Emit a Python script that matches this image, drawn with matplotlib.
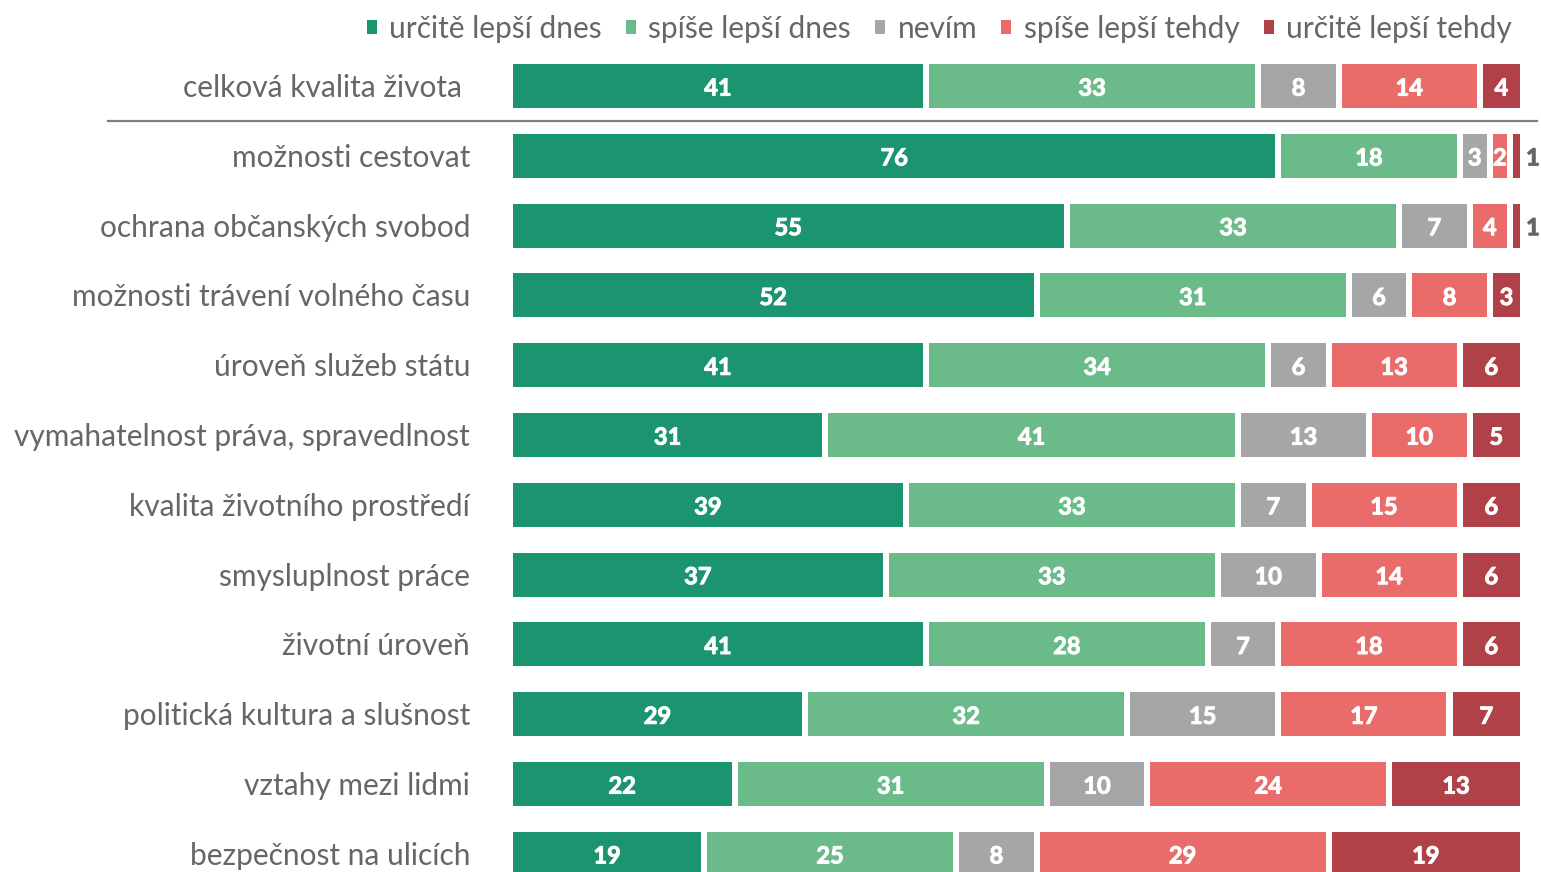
import matplotlib.pyplot as plt
import matplotlib.patheffects as pe
from matplotlib.lines import Line2D
from matplotlib.patches import Patch

plt.rcParams['font.family'] = ['Lato', 'DejaVu Sans']

categories = [
    "celková kvalita života",
    "možnosti cestovat",
    "ochrana občanských svobod",
    "možnosti trávení volného času",
    "úroveň služeb státu",
    "vymahatelnost práva, spravedlnost",
    "kvalita životního prostředí",
    "smysluplnost práce",
    "životní úroveň",
    "politická kultura a slušnost",
    "vztahy mezi lidmi",
    "bezpečnost na ulicích",
]
series_names = ["určitě lepší dnes", "spíše lepší dnes", "nevím",
                "spíše lepší tehdy", "určitě lepší tehdy"]
urcite_dnes = [41, 76, 55, 52, 41, 31, 39, 37, 41, 29, 22, 19]
spise_dnes = [33, 18, 33, 31, 34, 41, 33, 33, 28, 32, 31, 25]
nevim = [8, 3, 7, 6, 6, 13, 7, 10, 7, 15, 10, 8]
spise_tehdy = [14, 2, 4, 8, 13, 10, 15, 14, 18, 17, 24, 29]
urcite_tehdy = [4, 1, 1, 3, 6, 5, 6, 6, 6, 7, 13, 19]

colors = ["#1b9570", "#6aba8a", "#a6a6a6", "#e96b6a", "#b04149"]
text_gray = "#666666"

series = [urcite_dnes, spise_dnes, nevim, spise_tehdy, urcite_tehdy]

W, H = 1541, 872
fig = plt.figure(figsize=(W / 100, H / 100), dpi=100)
ax = fig.add_axes([513 / W, 0, 1007 / W, 1])

row0, step = 86, 69.8
ax.set_ylim((H - row0) / step, -row0 / step)
ax.set_xlim(0, 100)
ax.axis('off')

gap = 0.6
bar_h = 0.63
txt_dy = 0.03  # nudge text down a little
for i, cat in enumerate(categories):
    vals = [s[i] for s in series]
    total = sum(vals)
    left = 0
    for j, v in enumerate(vals):
        w = v * 100 / total
        l = left + (gap / 2 if j > 0 else 0)
        r = left + w - (gap / 2 if j < len(vals) - 1 else 0)
        ax.barh(i, r - l, left=l, height=bar_h, color=colors[j], linewidth=0)
        if v >= 2:
            ax.text((l + r) / 2, i + txt_dy, str(v), ha='center', va='center',
                    color='white', fontsize=17, fontweight='bold',
                    path_effects=[pe.withStroke(linewidth=0.7, foreground='white')])
        else:
            ax.text(100.6, i + txt_dy, str(v), ha='left', va='center',
                    color=text_gray, fontsize=17, fontweight='bold',
                    path_effects=[pe.withStroke(linewidth=0.7, foreground=text_gray)])
        left += w
    xlab = 462 if i == 0 else 470
    fig.text(xlab / W, 1 - (row0 + 2 + step * i) / H, cat, ha='right', va='center',
             fontsize=21.5, color=text_gray)

# separator under the first row
fig.add_artist(Line2D([108 / W, 1537 / W], [1 - 121 / H, 1 - 121 / H],
                      color="#7f7f7f", linewidth=1.6))

handles = [Patch(facecolor=c, edgecolor='none') for c in colors]
leg = fig.legend(handles, series_names, loc='center right', ncol=5,
                 bbox_to_anchor=(1524 / W, 1 - 29 / H), frameon=False,
                 fontsize=21.5, handlelength=0.34, handleheight=0.34,
                 handletextpad=0.42, columnspacing=0.8, borderaxespad=0)
for t in leg.get_texts():
    t.set_color(text_gray)

fig.savefig("out.png", dpi=100)
